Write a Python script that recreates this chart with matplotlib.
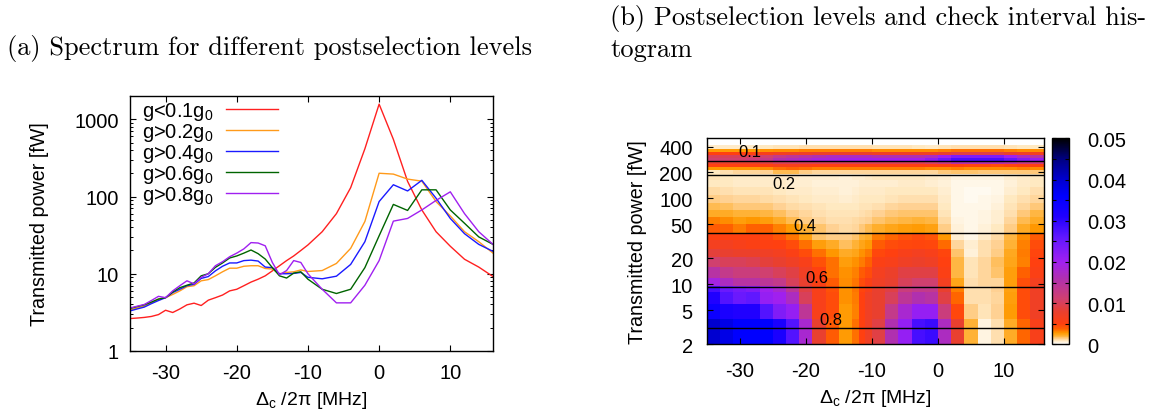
# -*- coding: utf-8 -*-
import matplotlib
matplotlib.use("Agg")
import matplotlib.pyplot as plt
import numpy as np
from matplotlib.colors import LinearSegmentedColormap, Normalize
from matplotlib.ticker import FixedLocator, NullFormatter, MultipleLocator, LogLocator

plt.rcParams["font.family"] = ["Liberation Sans", "DejaVu Sans"]
plt.rcParams["axes.unicode_minus"] = False
plt.rcParams["mathtext.default"] = "regular"

# --- (a) spectrum ---
detuning = [-35, -34, -33, -32, -31, -30, -29, -28, -27, -26, -25, -24, -23, -22, -21, -20,
            -19, -18, -17, -16, -15, -14, -13, -12, -11, -10, -8, -6, -4, -2, 0, 2, 4, 6, 8,
            10, 12, 14, 16]
g_01 = [2.63, 2.67, 2.72, 2.8, 2.96, 3.37, 3.15, 3.5, 3.96, 4.16, 3.88, 4.55, 4.9, 5.3, 6.0, 6.3,
        7.0, 7.8, 8.5, 9.4, 10.9, 12.7, 14.8, 17, 20, 23.6, 35, 60, 130, 415, 1570, 550, 157, 67,
        35, 22.7, 15.4, 12.2, 9.2]
g_02 = [3.4, 3.6, 3.8, 4.2, 4.7, 4.9, 5.4, 6.0, 6.8, 7.0, 8.1, 8.4, 9.4, 10.6, 11.8, 11.8,
        12.5, 12.7, 12.7, 11.7, 11.5, 10.0, 10.4, 10.6, 11.2, 10.7, 11, 13.6, 21.3, 47.5, 200, 195,
        168, 158, 86, 56, 35, 26, 18.5]
g_04 = [3.3, 3.5, 3.7, 4.1, 4.5, 4.9, 5.7, 6.3, 7.0, 7.3, 8.7, 9.2, 10.9, 12.5, 13.8, 13.8,
        14.8, 15, 14.6, 12.2, 12, 10, 10, 10.1, 10.4, 9, 8.6, 9.3, 13.2, 26, 86, 142, 118, 162,
        95, 52, 33, 24, 19.5]
g_06 = [3.55, 3.75, 3.95, 4.3, 4.7, 4.9, 5.8, 6.6, 7.1, 7.6, 9.4, 10, 12.1, 13.8, 16, 17,
        18.5, 20.3, 18.2, 15.5, 12, 9.4, 8.8, 10.2, 10.6, 8.5, 6.3, 5.55, 6.3, 12, 31, 79, 66, 122,
        122, 67, 45, 30, 24]
g_08 = [3.6, 3.8, 4.0, 4.5, 5.1, 4.9, 6.0, 7.0, 8.1, 7.4, 9, 10, 12.7, 14.3, 16.6, 18.5,
        21, 25.3, 25, 23, 14, 9.7, 11, 14.8, 14, 10, 6.3, 4.2, 4.2, 7.1, 14.8, 48, 52, 67,
        89, 115, 60, 35, 24]
series_labels = ["g<0.1g$_0$", "g>0.2g$_0$", "g>0.4g$_0$", "g>0.6g$_0$", "g>0.8g$_0$"]
series_colors = ["#ff2020", "#ff9a1a", "#1a1aff", "#006400", "#a020f0"]

# --- (b) histogram, values in units of 0.001 ---
col_edges = [-35, -33, -31, -29, -27, -25, -23, -21, -19, -17, -15, -13, -12, -11, -10,
             -8, -6, -4, -2, 0, 2, 4, 6, 8, 10, 12, 14, 16]
row_edges = [2, 3.9, 5.9, 8.1, 9.5, 11.7, 15.7, 20.6, 25.6, 32.7, 39.4, 50, 60, 73, 88, 108,
             134, 165, 190, 212, 230, 249, 270, 294, 318, 344, 375, 417, 500]
hist_rows = [
    [40, 38, 36, 36, 36, 32, 27, 18, 8, 4, 2.7, 3.5, 5, 7, 9, 16, 21, 28, 29, 17, 8, 2, 0.4, 1, 2.2, 3.7, 6],
    [34, 32, 31, 31, 27, 23, 21, 14, 6, 4.5, 2.7, 3.2, 5, 7, 8, 13, 18, 21, 21, 12, 4.7, 1.4, 0.9, 1.3, 2.7, 4.5, 7],
    [31, 27, 25, 26, 21, 20, 17, 10, 6, 4.5, 2.9, 3.3, 5, 7, 8, 10, 14, 16, 15, 9, 3.7, 1, 1, 1.2, 2.6, 4.5, 7],
    [28, 25, 24, 23, 20, 18, 14, 9, 6, 4.3, 2.9, 3.4, 4.8, 6, 8, 9, 12, 13, 13, 8, 3.2, 1, 1, 1.3, 2.5, 4.5, 7],
    [19, 17, 15, 15, 14, 13, 10, 8, 5.5, 4, 3, 3.4, 4.5, 5.5, 7, 8, 10, 11, 11, 6.5, 2.4, 1, 1.2, 1.2, 2.6, 4.4, 6.5],
    [15, 13, 12, 12, 11, 10, 9, 7, 5, 3.5, 2.9, 3.2, 4, 4.5, 6.5, 7.5, 9, 9, 9, 5.5, 1.9, 0.9, 1.2, 1.6, 2.6, 3.8, 5.5],
    [11, 10, 10, 9.5, 8.5, 8, 7, 6, 4.3, 3.5, 2.6, 2.9, 3.3, 3.8, 5.5, 6, 7, 7.5, 7, 5, 1.9, 0.9, 1.2, 1.7, 2.4, 3.2, 5],
    [8.5, 8, 7.5, 7.5, 7, 6.5, 5.5, 4.5, 3.5, 2.8, 2.2, 2.4, 2.9, 3.3, 4.7, 5, 6, 6.5, 6, 4.8, 1.6, 0.5, 1, 1.4, 2.3, 3.3, 4.8],
    [6.5, 6.5, 6, 5.5, 5.2, 5, 4.5, 3.5, 2.6, 2.2, 1.7, 2, 2.4, 2.7, 4, 4.5, 4.7, 4.8, 4.7, 3.6, 1.2, 0.6, 1, 1.3, 2, 3.2, 4.5],
    [5, 5, 5, 5, 4.8, 4.2, 3.4, 2.5, 1.6, 1.4, 1.4, 1.6, 2, 2.2, 3.3, 3.7, 4.2, 4.6, 4.2, 2.8, 0.6, 0.3, 0.7, 1.1, 1.9, 3, 4],
    [4, 3.8, 3.3, 3.8, 3.8, 3.2, 2.7, 2, 1.6, 1.3, 1.1, 1.2, 1.5, 1.8, 2.1, 2.4, 2.6, 2.7, 2.5, 1.4, 0.5, 0.3, 0.5, 0.8, 1.4, 2.2, 2.8],
    [3.2, 3, 2.6, 2.8, 2.6, 2.2, 1.8, 1.4, 1.2, 1.0, 1, 1.1, 1.2, 1.3, 1.6, 1.8, 1.9, 2, 1.9, 1.1, 0.4, 0.3, 0.4, 0.6, 1.2, 1.8, 2.2],
    [2.2, 2.2, 2, 2, 1.9, 1.7, 1.4, 1.2, 1, 0.9, 0.9, 0.9, 1, 1.1, 1.3, 1.5, 1.6, 1.6, 1.6, 0.9, 0.3, 0.3, 0.4, 0.6, 1, 1.5, 1.9],
    [1.8, 1.7, 1.5, 1.5, 1.5, 1.3, 1.1, 1, 0.9, 0.8, 0.8, 0.8, 0.9, 0.9, 1, 1.2, 1.3, 1.3, 1.3, 0.8, 0.3, 0.3, 0.3, 0.5, 0.9, 1.2, 1.5],
    [1.4, 1.3, 1.2, 1.2, 1.1, 1, 0.9, 0.8, 0.7, 0.7, 0.6, 0.7, 0.8, 0.8, 0.8, 0.9, 1, 1, 1, 0.7, 0.3, 0.2, 0.3, 0.4, 0.8, 1, 1.2],
    [1.1, 1, 0.9, 0.9, 0.9, 0.8, 0.7, 0.7, 0.6, 0.6, 0.5, 0.6, 0.7, 0.7, 0.7, 0.8, 0.8, 0.8, 0.8, 0.6, 0.3, 0.2, 0.2, 0.3, 0.6, 0.8, 1],
    [0.8, 0.8, 0.7, 0.7, 0.7, 0.7, 0.6, 0.6, 0.5, 0.5, 0.5, 0.5, 0.6, 0.6, 0.6, 0.6, 0.7, 0.7, 0.6, 0.5, 0.3, 0.3, 0.3, 0.3, 0.5, 0.7, 0.8],
    [0.9, 0.8, 0.7, 0.7, 0.7, 0.7, 0.7, 0.6, 0.6, 0.6, 0.5, 0.6, 0.6, 0.7, 0.8, 0.8, 0.8, 0.8, 0.7, 0.6, 0.4, 0.4, 0.4, 0.4, 0.6, 0.7, 0.8],
    [0.8, 1, 1.2, 1.2, 1.3, 1.8, 1.8, 1.4, 1.2, 1.2, 1.2, 1.2, 1.2, 1.2, 1.2, 1.2, 1.2, 1.2, 1.2, 1.5, 1.6, 1.6, 1.5, 1.5, 1.5, 1.5, 1.5],
    [2.8, 2.8, 2.8, 2.8, 3, 3.5, 3.7, 3.5, 3.2, 3.2, 3.2, 3.2, 3.2, 3.2, 3.2, 3.2, 3.2, 3.2, 3, 3, 3.2, 3, 3, 3, 3, 3.2, 3],
    [5, 5, 5, 5, 5, 6, 6, 5.5, 5, 5, 5, 5, 5, 5, 5, 5, 5, 5, 5, 5, 5, 4.8, 4.8, 4.5, 4.8, 5, 5],
    [8, 8, 8, 8, 9, 10, 10, 10, 10, 10, 10, 10, 10, 10, 10, 10, 10, 10, 11, 13, 16, 16, 16, 16, 15, 13, 12],
    [11, 11, 11, 12, 13, 16, 17, 18, 19, 19, 20, 20, 20, 20, 20, 20, 20, 20, 22, 25, 28, 28, 28, 28, 26, 23, 21],
    [10, 10, 10, 10, 11, 13, 14, 15, 16, 17, 17, 17, 17, 17, 16, 16, 16, 16, 17, 20, 23, 23, 23, 23, 20, 17, 15],
    [5, 5, 5, 5, 6, 6.5, 7, 7, 7.5, 7.5, 7.5, 7.5, 7.5, 7.5, 7, 7, 7, 7, 7, 8, 9, 9, 9, 9, 8, 7, 6.5],
    [2.7, 2.7, 2.7, 2.7, 2.9, 3, 3, 3.2, 3.2, 3.2, 3.2, 3.2, 3.2, 3.2, 3, 3, 3, 3, 3, 3.2, 3.5, 3.5, 3.5, 3.5, 3.2, 3, 3],
    [0.7, 0.7, 0.7, 0.7, 0.8, 0.9, 0.9, 1, 1, 1, 1, 1, 1, 1, 0.9, 0.9, 0.9, 0.8, 0.7, 0.9, 1, 1, 1, 1, 0.9, 0.8, 0.8],
    [0.05, 0.05, 0.05, 0.05, 0.05, 0.05, 0.05, 0.05, 0.05, 0.05, 0.05, 0.05, 0.05, 0.05, 0.05, 0.05, 0.05, 0.05, 0.05, 0.05, 0.05, 0.05, 0.05, 0.05, 0.05, 0.05, 0.05],
]
level_powers = [273, 188, 40, 9.4, 3.09]
level_labels = ["0.1", "0.2", "0.4", "0.6", "0.8"]
level_label_x = [-28.4, -23.3, -20.2, -18.3, -16.2]
level_label_y = [354, 150, 48.8, 12.1, 3.94]

palette_stops = [0, 0.4, 0.8, 1.3, 2, 2.7, 3.7, 5, 8, 11, 16, 20, 26, 31, 36, 40, 45, 50]
palette_colors = ["#ffffff", "#fff4e0", "#ffe8c0", "#ffd090", "#ffb030", "#ff9900", "#ff6000",
                  "#ff4010", "#e84030", "#d04070", "#b030b0", "#a020f0", "#6018ff", "#2000ff",
                  "#0000ff", "#0000d0", "#000080", "#000000"]

W, H = 1150, 414


def px_axes(fig, left, top, right, bottom):
    return fig.add_axes([left / W, 1 - bottom / H, (right - left) / W, (bottom - top) / H])


def style_ticks(ax, xpad, ypad):
    ax.tick_params(which="major", direction="in", top=True, right=True, length=4.5, width=0.8,
                   labelsize=14.5)
    ax.tick_params(axis="x", which="major", pad=xpad)
    ax.tick_params(axis="y", which="major", pad=ypad)
    ax.tick_params(which="minor", direction="in", top=True, right=True, length=2.5, width=0.7)
    for sp in ax.spines.values():
        sp.set_linewidth(1.0)


fig = plt.figure(figsize=(W / 100, H / 100), dpi=100)

# 面板 a
ax = px_axes(fig, 130, 97, 493, 352)
for vals, lab, col in zip([g_01, g_02, g_04, g_06, g_08], series_labels, series_colors):
    ax.plot(detuning, vals, color=col, lw=1.0, label=lab)
ax.set_yscale("log")
ax.set_xlim(-35, 16)
ax.set_ylim(1, 2000)
ax.set_xticks([-30, -20, -10, 0, 10])
ax.set_yticks([1, 10, 100, 1000])
ax.set_yticklabels(["1", "10", "100", "1000"])
ax.yaxis.set_minor_locator(LogLocator(base=10, subs=np.arange(2, 10), numticks=10))
ax.yaxis.set_minor_formatter(NullFormatter())
style_ticks(ax, 9, 8)
ax.set_xlabel("Δ$_c$ /2π [MHz]", fontsize=14, labelpad=5)
ax.set_ylabel("Transmitted power [fW]", fontsize=14.2, labelpad=18)
ax.legend(loc="upper left", frameon=False, markerfirst=False, fontsize=14.5, handlelength=2.6,
          handletextpad=0.6, labelspacing=-0.05, borderaxespad=0, borderpad=0.2,
          bbox_to_anchor=(0.023, 1.0))

# 面板 b
cmap = LinearSegmentedColormap.from_list(
    "hist", [(s / 50, c) for s, c in zip(palette_stops, palette_colors)], N=512)
norm = Normalize(0, 0.05)
ax2 = px_axes(fig, 706.7, 139.3, 1043.7, 345.3)
mesh = ax2.pcolormesh(col_edges, row_edges, np.array(hist_rows) * 1e-3, cmap=cmap, norm=norm,
                      linewidth=0, edgecolors="none")
ax2.set_yscale("log")
ax2.set_xlim(-35, 16)
ax2.set_ylim(2, 500)
ax2.set_xticks([-30, -20, -10, 0, 10])
ax2.yaxis.set_major_locator(FixedLocator([2, 5, 10, 20, 50, 100, 200, 400]))
ax2.set_yticklabels(["2", "5", "10", "20", "50", "100", "200", "400"])
ax2.yaxis.set_minor_locator(FixedLocator([]))
ax2.yaxis.set_minor_formatter(NullFormatter())
style_ticks(ax2, 12, 10)
ax2.set_xlabel("Δ$_c$ /2π [MHz]", fontsize=14, labelpad=5)
ax2.set_ylabel("Transmitted power [fW]", fontsize=14.2, labelpad=9)
for p in level_powers:
    ax2.axhline(p, color="black", lw=1.0)
for tx, ty, lab in zip(level_label_x, level_label_y, level_labels):
    ax2.text(tx, ty, lab, fontsize=12, ha="center", va="center")

cax = px_axes(fig, 1052, 139.3, 1069, 345.3)
cb = fig.colorbar(mesh, cax=cax, ticks=[0, 0.01, 0.02, 0.03, 0.04, 0.05])
cb.ax.set_yticklabels(["0", "0.01", "0.02", "0.03", "0.04", "0.05"])
cb.ax.yaxis.set_minor_locator(MultipleLocator(0.005))
cb.ax.tick_params(which="both", direction="in", left=True, right=True, length=3, width=0.8)
cb.ax.tick_params(which="major", labelsize=14.5, pad=13)
cb.outline.set_linewidth(1.0)

# 标题
title_font = dict(family="cmr10", fontsize=19, va="center", ha="left")
fig.text(7 / W, 1 - 48 / H, "(a) Spectrum for different postselection levels", **title_font)
fig.text(610 / W, 1 - 18 / H, "(b) Postselection levels and check interval his-", **title_font)
fig.text(610 / W, 1 - 50 / H, "togram", **title_font)

fig.savefig("out.png", dpi=100)
